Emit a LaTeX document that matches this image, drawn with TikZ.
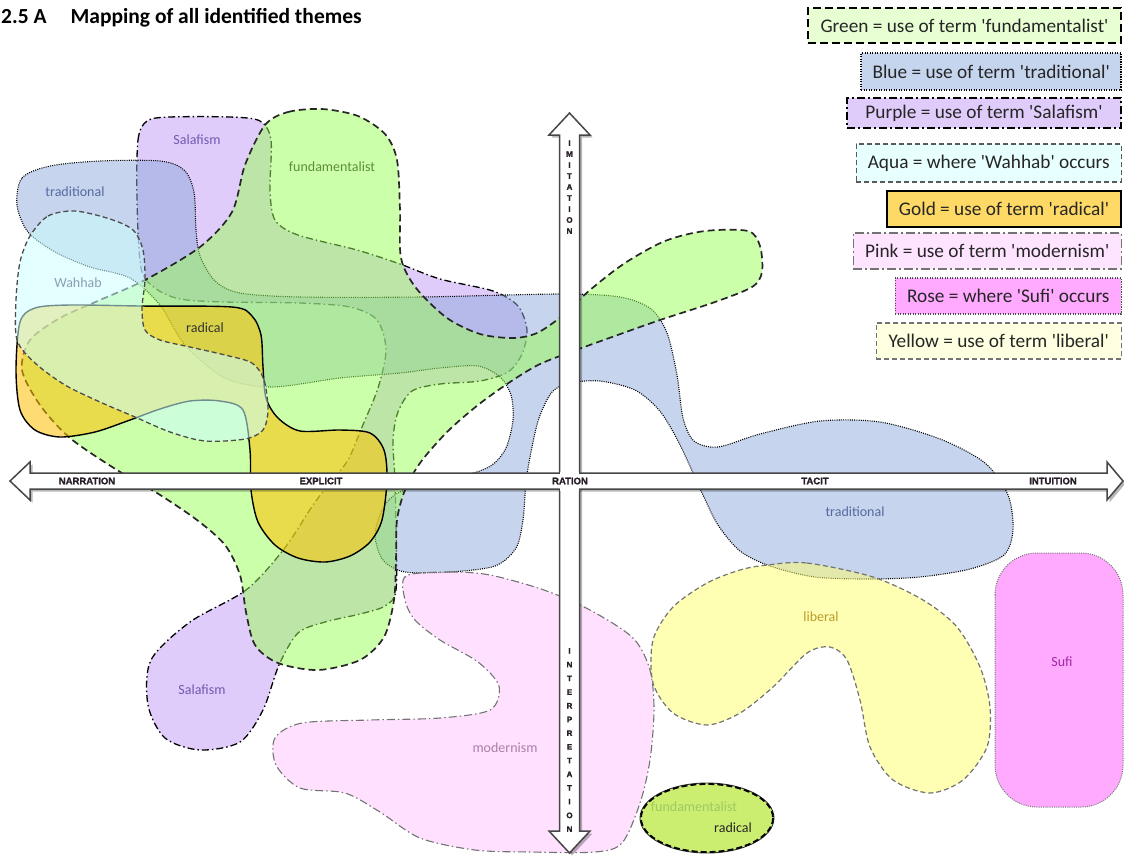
\documentclass[tikz,border=0pt]{standalone}
\usepackage{fontspec}
\setmainfont{Carlito}
\newfontfamily\axisfont{Liberation Sans}[BoldFeatures={FakeBold=1.5}]
\definecolor{cPurple}{RGB}{193,153,245}
\definecolor{cBlue}{RGB}{141,169,219}
\definecolor{cGreen}{RGB}{153,255,85}
\definecolor{cGold}{RGB}{255,192,0}
\definecolor{cAqua}{RGB}{204,255,255}
\definecolor{cPink}{RGB}{255,195,255}
\definecolor{cYellow}{RGB}{255,255,105}
\definecolor{cRose}{RGB}{255,170,255}
\definecolor{cEll}{RGB}{204,238,112}
\definecolor{lGreen}{RGB}{232,255,212}
\definecolor{lBlue}{RGB}{197,213,238}
\definecolor{lPurple}{RGB}{224,204,250}
\definecolor{lAqua}{RGB}{232,255,255}
\definecolor{lGold}{RGB}{255,217,102}
\definecolor{lPink}{RGB}{255,228,255}
\definecolor{lRose}{RGB}{255,170,255}
\definecolor{lYellow}{RGB}{255,255,225}
\definecolor{axisline}{RGB}{70,70,70}
\definecolor{axistext}{RGB}{40,30,40}
\definecolor{tSalaf}{RGB}{110,90,175}
\definecolor{tFund}{RGB}{95,140,60}
\definecolor{tTrad}{RGB}{85,105,160}
\definecolor{tWah}{RGB}{135,160,180}
\definecolor{tLib}{RGB}{185,155,40}
\definecolor{tSufi}{RGB}{160,40,165}
\definecolor{tMod}{RGB}{170,125,170}
\definecolor{tFundL}{RGB}{160,200,100}
\tikzset{
  thPurple/.style={fill=cPurple, fill opacity=0.5, draw=black, line width=1.3pt, dash pattern=on 7pt off 3pt on 1.5pt off 3pt},
  thBlue/.style={fill=cBlue, fill opacity=0.5, draw=black, line width=1.1pt, dash pattern=on 1pt off 1.2pt},
  thGreen/.style={fill=cGreen, fill opacity=0.5, draw=black!85, line width=1.7pt, dash pattern=on 7pt off 4pt},
  thGold/.style={fill=cGold, fill opacity=0.55, draw=black, line width=1.4pt},
  thAqua/.style={fill=cAqua, fill opacity=0.55, draw=black!70, line width=1.3pt, dash pattern=on 5pt off 3pt},
  thPink/.style={fill=cPink, fill opacity=0.5, draw=black!55, line width=1.1pt, dash pattern=on 8pt off 3pt on 1.5pt off 3pt},
  thYellow/.style={fill=cYellow, fill opacity=0.5, draw=black!55, line width=1.2pt, dash pattern=on 5pt off 3pt},
  thRose/.style={fill=cRose, draw=black!55, line width=1pt, dash pattern=on 1pt off 1.2pt},
  lg/.style={anchor=east, inner sep=0pt, font=\fontsize{19.3}{21}\selectfont, text=black!85},
  blab/.style={font=\fontsize{14}{16}\selectfont, inner sep=0pt},
  alab/.style={font=\axisfont\bfseries\fontsize{9.5}{10}\selectfont, text=axistext, inner sep=0pt},
  arrowbody/.style={fill=white, draw=axisline, line width=1.5pt, line join=miter},
  arrowshadow/.style={fill=black, fill opacity=0.28},
}
\begin{document}
\begin{tikzpicture}[x=1pt,y=-1pt]
\useasboundingbox (0,0) rectangle (1124,855);

% ---------- theme regions ----------
% Purple: Salafism
\path[thPurple] plot[smooth cycle] coordinates {(137,200) (138,140) (147,121) (170,117) (230,117) (260,121) (271,140) (270,190) (275,220) (298,235) (357,250) (400,264) (440,279) (493,291) (518,306) (527,330) (522,354) (508,372) (480,381) (440,384) (412,391) (398,412) (393,440) (395,480) (396,530) (396,590) (385,606) (360,614) (325,622) (298,633) (279,665) (263,710) (240,742) (200,750) (165,738) (148,705) (151,660) (190,622) (246,590) (284,549) (313,505) (330,483) (348,460) (362,427) (378,388) (386,350) (377,320) (350,307) (300,303) (225,302) (180,299) (155,288) (141,268)};

% Blue: traditional
\path[thBlue] plot[smooth cycle] coordinates {(17,205) (22,178) (50,166) (100,161) (160,161) (184,170) (194,192) (196,230) (200,256) (215,281) (240,293) (300,297) (420,297) (560,294) (620,297) (651,309) (667,333) (677,375) (683,418) (694,441) (718,447) (760,434) (820,421) (880,422) (940,439) (985,463) (1008,495) (1013,530) (1004,555) (970,569) (920,577) (870,579) (815,577) (770,566) (740,551) (718,525) (703,495) (689,464) (676,437) (659,410) (635,390) (600,381) (570,383) (552,392) (539,418) (531,452) (526,482) (523,520) (516,548) (495,566) (450,572) (405,572) (383,560) (375,535) (383,508) (398,493) (435,480) (470,474) (492,465) (506,448) (513,420) (511,395) (500,377) (478,366) (440,368) (400,373) (340,378) (272,387) (225,378) (185,345) (160,305) (130,278) (90,267) (55,252) (28,232)};

% Green: fundamentalist
\path[thGreen] plot[smooth cycle] coordinates {(265,125) (288,112) (322,109) (358,116) (385,134) (397,160) (400,210) (401,258) (416,288) (447,318) (480,334) (513,338) (537,333) (562,316) (590,290) (625,263) (665,241) (705,231) (748,231) (760,246) (762,272) (752,287) (715,302) (660,320) (612,337) (568,353) (538,365) (510,382) (478,405) (447,432) (420,463) (405,490) (397,520) (396,560) (394,600) (384,637) (360,660) (318,670) (278,663) (255,645) (246,612) (240,575) (225,545) (197,520) (157,493) (117,470) (70,438) (40,405) (22,370) (30,340) (60,318) (100,300) (145,280) (200,247) (232,212) (245,165)};

% Gold: radical
\path[thGold] plot[smooth cycle] coordinates {(20,322) (35,308) (70,305) (140,306) (232,307) (252,316) (261,335) (263,367) (266,398) (278,418) (300,431) (340,430) (370,433) (384,450) (387,480) (382,520) (370,542) (350,556) (325,562) (298,558) (275,545) (258,522) (251,490) (250,450) (243,410) (220,401) (190,401) (160,409) (130,420) (95,432) (60,437) (35,430) (20,410) (16,370)};

% Aqua: Wahhab
\path[thAqua] plot[smooth cycle] coordinates {(30,236) (48,216) (75,211) (110,219) (133,230) (143,250) (145,280) (142,308) (145,330) (160,340) (190,347) (225,355) (252,363) (264,380) (268,410) (263,430) (245,439) (205,441) (170,432) (135,417) (100,402) (65,385) (35,363) (17,340) (16,300) (20,262)};

% Pink: modernism
\path[thPink] plot[smooth cycle] coordinates {(406,576) (450,572) (490,575) (544,590) (590,610) (633,638) (650,670) (654,710) (650,760) (640,803) (622,843) (595,852) (530,852) (475,850) (420,838) (380,812) (345,793) (300,788) (276,765) (275,738) (302,723) (370,720) (440,718) (490,710) (499,686) (478,662) (440,640) (415,620) (405,600)};

% Yellow: liberal
\path[thYellow] plot[smooth cycle] coordinates {(767,565) (807,563) (873,577) (923,600) (957,627) (980,667) (990,707) (987,747) (963,780) (930,793) (893,780) (870,747) (860,700) (847,660) (830,647) (807,653) (773,687) (740,713) (707,725) (673,713) (653,683) (653,640) (673,607) (707,583) (740,570)};

% Rose: Sufi
\path[thRose, rounded corners=42pt] (995,553) rectangle (1123,807);

% Bottom ellipse: fundamentalist + radical
\path[fill=cEll, draw=black!80, line width=0.9pt] (707,818) ellipse [x radius=67, y radius=35];
\path[draw=black, line width=1.8pt, dash pattern=on 6pt off 3pt] (707,818) ellipse [x radius=66, y radius=34];

% ---------- axes ----------
\path[arrowshadow, xshift=2.5pt, yshift=-2.5pt] (569.5,113) -- (590,135) -- (579.5,135) -- (579.5,831) -- (590,831) -- (569.5,853) -- (549,831) -- (559.5,831) -- (559.5,135) -- (549,135) -- cycle;
\path[arrowshadow, xshift=2.5pt, yshift=-2.5pt] (10,481) -- (30,462) -- (30,473) -- (1107,473) -- (1107,462) -- (1123,481) -- (1107,500) -- (1107,489) -- (30,489) -- (30,500) -- cycle;
\path[arrowbody] (569.5,113) -- (590,135) -- (579.5,135) -- (579.5,831) -- (590,831) -- (569.5,853) -- (549,831) -- (559.5,831) -- (559.5,135) -- (549,135) -- cycle;
\path[arrowbody] (10,481) -- (30,462) -- (30,473) -- (1107,473) -- (1107,462) -- (1123,481) -- (1107,500) -- (1107,489) -- (30,489) -- (30,500) -- cycle;
\fill[white] (560.3,471.5) rectangle (578.7,490.5);

\node[alab] (narration) at (87,481) {NARRATION};
\node[alab] (explicit) at (321,481) {EXPLICIT};
\node[alab] (ration) at (570,481) {RATION};
\node[alab] (tacit) at (815,481) {TACIT};
\node[alab] (intuition) at (1053,481) {INTUITION};
\node[alab, align=center, font=\axisfont\bfseries\fontsize{8}{11}\selectfont] (imitation) at (569.5,187) {I\\M\\I\\T\\A\\T\\I\\O\\N};
\node[alab, align=center, font=\axisfont\bfseries\fontsize{8}{13.7}\selectfont] (interpretation) at (569.5,740) {I\\N\\T\\E\\R\\P\\R\\E\\T\\A\\T\\I\\O\\N};

% ---------- region labels ----------
\node[blab, text=tSalaf] (salafTop) at (197,140) {Salafism};
\node[blab, text=tFund] (fundTop) at (332,167) {fundamentalist};
\node[blab, text=tTrad] (tradLeft) at (75,192) {traditional};
\node[blab, text=tWah] (wahhab) at (78,283) {Wahhab};
\node[blab, text=black!80] (radTop) at (205,328) {radical};
\node[blab, text=tTrad] (tradRight) at (855,512) {traditional};
\node[blab, text=tLib] (liberal) at (821,617) {liberal};
\node[blab, text=tSufi] (sufi) at (1062,662) {Sufi};
\node[blab, text=tSalaf] (salafBot) at (202,690) {Salafism};
\node[blab, text=tMod] (modern) at (505,748) {modernism};
\node[blab, text=tFundL] (fundBot) at (694,807) {fundamentalist};
\node[blab, text=black!85] (radBot) at (733,828) {radical};

% ---------- title ----------
\node[anchor=west, inner sep=0pt, font=\bfseries\fontsize{21.5}{24}\selectfont] (title) at (1,18) {2.5 A\hspace{24pt}Mapping of all identified themes};

% ---------- legend ----------
\node[lg, fill=lGreen, draw=black, line width=2pt, dash pattern=on 8pt off 4pt, minimum width=313pt, minimum height=35pt] (lgGreen) at (1122,25.5) {Green = use of term \textquotesingle fundamentalist\textquotesingle};
\node[lg, fill=lBlue, draw=black, line width=1.6pt, dash pattern=on 1.2pt off 1.3pt, minimum width=260pt, minimum height=37pt] (lgBlue) at (1122,71.5) {Blue = use of term \textquotesingle traditional\textquotesingle};
\node[lg, fill=lPurple, draw=black, line width=2pt, dash pattern=on 8pt off 3pt on 2pt off 3pt, minimum width=274pt, minimum height=30pt] (lgPurple) at (1122,113) {Purple = use of term \textquotesingle Salafism\textquotesingle};
\node[lg, fill=lAqua, draw=black!65, line width=1.5pt, dash pattern=on 5pt off 3pt, minimum width=265pt, minimum height=38pt] (lgAqua) at (1122,163) {Aqua = where \textquotesingle Wahhab\textquotesingle\ occurs};
\node[lg, fill=lGold, draw=black, line width=2pt, minimum width=234pt, minimum height=36pt] (lgGold) at (1122,209) {Gold = use of term \textquotesingle radical\textquotesingle};
\node[lg, fill=lPink, draw=black!55, line width=1.5pt, dash pattern=on 9pt off 3pt on 2pt off 3pt, minimum width=268pt, minimum height=36pt] (lgPink) at (1122,251) {Pink = use of term \textquotesingle modernism\textquotesingle};
\node[lg, fill=lRose, draw=black!70, line width=1.5pt, dash pattern=on 1.2pt off 1.3pt, minimum width=226pt, minimum height=36pt] (lgRose) at (1122,296) {Rose = where \textquotesingle Sufi\textquotesingle\ occurs};
\node[lg, fill=lYellow, draw=black!55, line width=1.5pt, dash pattern=on 5pt off 3pt, minimum width=245pt, minimum height=36pt] (lgYellow) at (1122,341) {Yellow = use of term \textquotesingle liberal\textquotesingle};
\end{tikzpicture}
\end{document}
